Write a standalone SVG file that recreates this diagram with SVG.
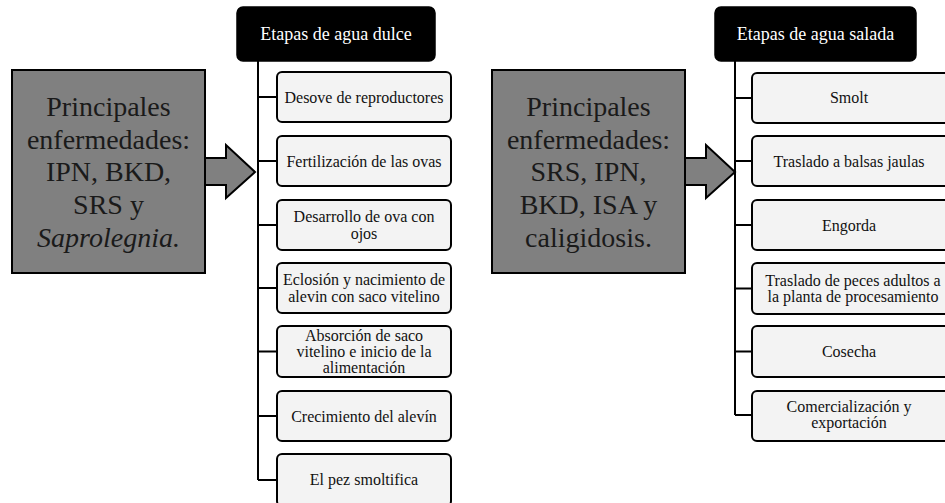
<svg xmlns="http://www.w3.org/2000/svg" width="945" height="503" viewBox="0 0 945 503">
<style>
.bg{fill:#ffffff}
.dis{fill:#808080;stroke:#000;stroke-width:2}
.arr{fill:#808080;stroke:#000;stroke-width:2;stroke-linejoin:miter}
.hdr{fill:#000;stroke:#000;stroke-width:1.5}
.box{fill:#f3f3f3;stroke:#000;stroke-width:2}
.con{fill:none;stroke:#000;stroke-width:2}
text{font-family:"Liberation Serif","Times New Roman",serif;text-anchor:middle}
.big{font-size:28px;fill:#1a1a1a}
.ht{font-size:18px;fill:#fff}
.t{font-size:16px;fill:#111}
</style>
<rect class="bg" x="0" y="0" width="945" height="503"/>

<g id="connectors">
  <path class="con" d="M258,61 V480"/>
  <path class="con" d="M258,97 H277 M258,161 H277 M258,225 H277 M258,288 H277 M258,351.5 H277 M258,416 H277 M258,480 H277"/>
  <path class="con" d="M735,61 V415"/>
  <path class="con" d="M735,98 H752 M735,161 H752 M735,225 H752 M735,288.5 H752 M735,351.5 H752 M735,415 H752"/>
</g>

<g id="disease-fresh">
  <rect class="dis" x="12" y="70" width="193" height="203"/>
  <text class="big" x="108.5" y="116">Principales</text>
  <text class="big" x="108.5" y="148.5">enfermedades:</text>
  <text class="big" x="108.5" y="181">IPN, BKD,</text>
  <text class="big" x="108.5" y="214">SRS y</text>
  <text class="big" x="108.5" y="246.5" font-style="italic">Saprolegnia.</text>
</g>
<g id="arrow-fresh">
  <polygon class="arr" points="205,158 226,158 226,145 255,172 226,198 226,185 205,185"/>
</g>

<g id="header-fresh">
  <rect class="hdr" x="237" y="7" width="198" height="54" rx="6"/>
  <text class="ht" x="336" y="40">Etapas de agua dulce</text>
</g>
<g id="f1"><rect class="box" x="277" y="72" width="174" height="50" rx="5"/><text class="t" x="364" y="102.5">Desove de reproductores</text></g>
<g id="f2"><rect class="box" x="277" y="136" width="174" height="50" rx="5"/><text class="t" x="364" y="166.5">Fertilización de las ovas</text></g>
<g id="f3"><rect class="box" x="277" y="200" width="174" height="50" rx="5"/><text class="t" x="364" y="222">Desarrollo de ova con</text><text class="t" x="364" y="239">ojos</text></g>
<g id="f4"><rect class="box" x="277" y="263" width="174" height="50" rx="5"/><text class="t" x="364" y="285">Eclosión y nacimiento de</text><text class="t" x="364" y="302">alevin con saco vitelino</text></g>
<g id="f5"><rect class="box" x="277" y="326" width="174" height="51" rx="5"/><text class="t" x="364" y="341">Absorción de saco</text><text class="t" x="364" y="357">vitelino e inicio de la</text><text class="t" x="364" y="373">alimentación</text></g>
<g id="f6"><rect class="box" x="277" y="391" width="174" height="50" rx="5"/><text class="t" x="364" y="421.5">Crecimiento del alevín</text></g>
<g id="f7"><rect class="box" x="277" y="454" width="174" height="52" rx="5"/><text class="t" x="364" y="485">El pez smoltifica</text></g>

<g id="disease-salt">
  <rect class="dis" x="492" y="70" width="193" height="203"/>
  <text class="big" x="588.5" y="116">Principales</text>
  <text class="big" x="588.5" y="148.5">enfermedades:</text>
  <text class="big" x="588.5" y="181">SRS, IPN,</text>
  <text class="big" x="588.5" y="214">BKD, ISA y</text>
  <text class="big" x="588.5" y="246.5">caligidosis.</text>
</g>
<g id="arrow-salt">
  <polygon class="arr" points="685,158 706,158 706,145 735,172 706,198 706,185 685,185"/>
</g>

<g id="header-salt">
  <rect class="hdr" x="715" y="7" width="201" height="54" rx="6"/>
  <text class="ht" x="815.5" y="40">Etapas de agua salada</text>
</g>
<g id="s1"><rect class="box" x="752" y="73" width="200" height="50" rx="5"/><text class="t" x="849" y="103">Smolt</text></g>
<g id="s2"><rect class="box" x="752" y="136" width="200" height="50" rx="5"/><text class="t" x="849" y="166.5">Traslado a balsas jaulas</text></g>
<g id="s3"><rect class="box" x="752" y="200" width="200" height="50" rx="5"/><text class="t" x="849" y="230.5">Engorda</text></g>
<g id="s4"><rect class="box" x="752" y="263" width="200" height="51" rx="5"/><text class="t" x="853" y="285.5">Traslado de peces adultos a</text><text class="t" x="853" y="302">la planta de procesamiento</text></g>
<g id="s5"><rect class="box" x="752" y="326" width="200" height="51" rx="5"/><text class="t" x="849" y="357">Cosecha</text></g>
<g id="s6"><rect class="box" x="752" y="391" width="200" height="50" rx="5"/><text class="t" x="849" y="411.5">Comercialización y</text><text class="t" x="849" y="428">exportación</text></g>
</svg>
